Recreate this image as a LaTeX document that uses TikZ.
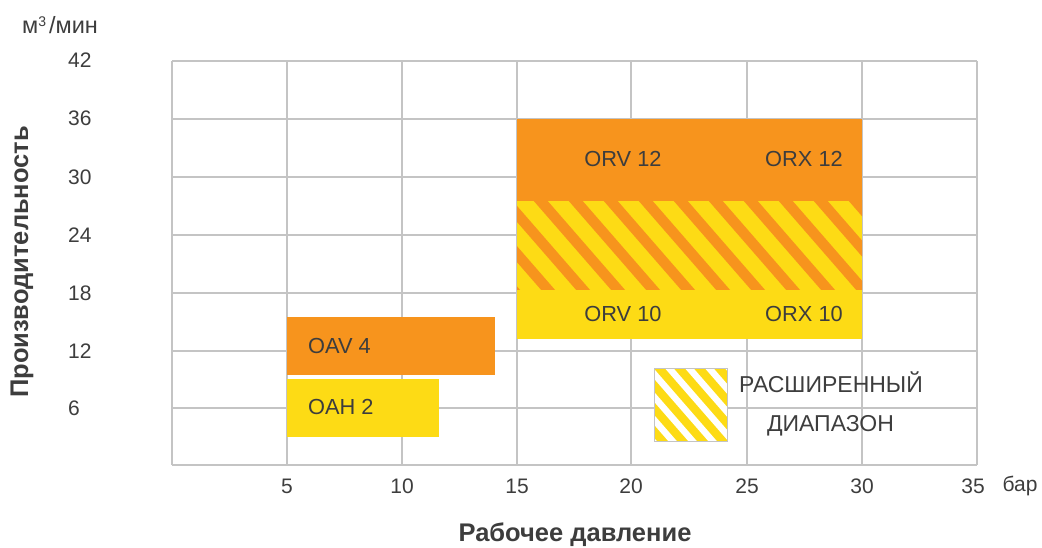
\documentclass[tikz,border=0pt]{standalone}
\usepackage{fontspec}
\setmainfont{Liberation Sans}
\definecolor{orng}{HTML}{F7941D}
\definecolor{yel}{HTML}{FDDB15}
\definecolor{txt}{HTML}{3D3D3D}
\definecolor{grd}{HTML}{C4C4C4}
\begin{document}
\begin{tikzpicture}[x=1pt,y=-1pt,
  gridline/.style={draw=grd, line width=1.4pt},
  ticklab/.style={font=\fontsize{21}{24}\selectfont, text=txt, inner sep=0pt},
  boxlab/.style={font=\fontsize{21.8}{24}\selectfont, text=txt, inner sep=0pt},
  leglab/.style={font=\fontsize{23}{26}\selectfont, text=txt, inner sep=0pt},
  axtitle/.style={font=\bfseries\fontsize{25.5}{30}\selectfont, text=txt, inner sep=0pt}]
\useasboundingbox (0,0) rectangle (1042,547);
% grid
\foreach \y in {61,119,177,235,293,351,408,465}
  \draw[gridline] (172,\y) -- (977,\y);
\foreach \x in {172,287,402,517,631,747,862,977}
  \draw[gridline] (\x,61) -- (\x,465);
% y tick labels
\foreach \y/\t in {60/42,118/36,177/30,235/24,293/18,351/12,408/6}
  \node[ticklab, anchor=west] (yl\t) at (68,\y) {\t};
% x tick labels
\foreach \x/\t in {287/5,402/10,517/15,631/20,747/25,862/30,973/35}
  \node[ticklab] (xl\t) at (\x,486) {\t};
\node[ticklab] (bar) at (1020,486) {бар};
\node[font=\fontsize{23.5}{26}\selectfont, text=txt, inner sep=0pt, anchor=base west] (unit) at (22,33) {м\raisebox{7pt}{\fontsize{14}{14}\selectfont 3}\hspace{3pt}/мин};
% axis titles
\node[axtitle, rotate=90] (ytitle) at (22,262) {Производительность};
\node[axtitle, anchor=base] (xtitle) at (575,541) {Рабочее давление};
% ORV/ORX boxes
\fill[orng] (517,119) rectangle (862,200.7);
\fill[yel] (517,289) rectangle (862,338.7);
\begin{scope}
  \clip (517,200.7) rectangle (862,289);
  \fill[yel] (517,200.7) rectangle (862,289);
  \foreach \k in {-5,...,10}
    \draw[orng, line width=10.5pt] ({540.5+35*\k-100},{200.7-115}) -- ({540.5+35*\k+200},{200.7+230});
\end{scope}
\node[boxlab] (orv12) at (623,159) {ORV 12};
\node[boxlab] (orx12) at (804,159) {ORX 12};
\node[boxlab] (orv10) at (623,314) {ORV 10};
\node[boxlab] (orx10) at (804,314) {ORX 10};
% OAV / OAH
\fill[orng] (287,316.7) rectangle (495,374.7);
\fill[yel] (287,379) rectangle (439,436.7);
\node[boxlab, anchor=west] (oav) at (308,346) {OAV 4};
\node[boxlab, anchor=west] (oah) at (308,407) {OAH 2};
% legend
\begin{scope}
  \clip (654,368) rectangle (727,441);
  \fill[yel] (654,368) rectangle (727,441);
  \foreach \k in {-5,...,4}
    \draw[white, line width=6.5pt] ({669+20*\k-60},{368-69}) -- ({669+20*\k+120},{368+138});
\end{scope}
\draw[grd, line width=1pt] (654,368) rectangle (727,441);
\node[leglab] (leg1) at (831,382) {РАСШИРЕННЫЙ};
\node[leglab] (leg2) at (830.5,426) {ДИАПАЗОН};
\end{tikzpicture}
\end{document}
